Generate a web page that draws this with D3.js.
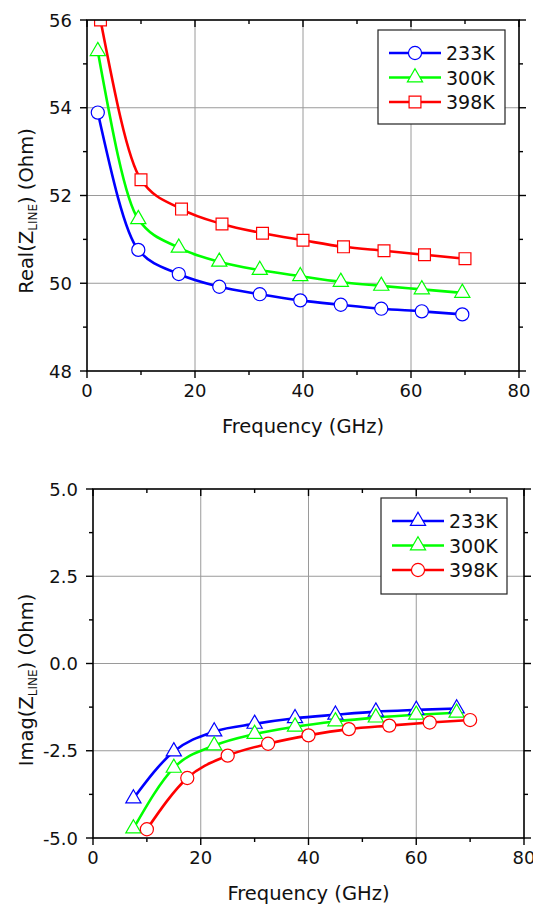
<!doctype html>
<html>
<head>
<meta charset="utf-8">
<title>Z line vs frequency</title>
<style>
  body { margin: 0; background: #fff; }
  text { font-family: "DejaVu Sans", Verdana, sans-serif; }
</style>
</head>
<body>
<script src="https://d3js.org/d3.v7.min.js"></script>
<script>
// ---- data ----
var xTicks = [0, 20, 40, 60, 80];
var xMinor = [10, 30, 50, 70];

// top panel: Real(Z_LINE)
var realTicks = [48, 50, 52, 54, 56];
var realMinor = [49, 51, 53, 55];
var realFreqA = [2, 9.5, 17, 24.5, 32, 39.5, 47, 54.5, 62, 69.5];
var realFreqB = [2.5, 10, 17.5, 25, 32.5, 40, 47.5, 55, 62.5, 70];
var real233 = [53.89, 50.76, 50.21, 49.92, 49.75, 49.61, 49.51, 49.42, 49.36, 49.29];
var real300 = [55.29, 51.46, 50.81, 50.49, 50.30, 50.16, 50.03, 49.94, 49.86, 49.78];
var real398 = [56.0, 52.36, 51.69, 51.35, 51.14, 50.98, 50.83, 50.74, 50.65, 50.56];

// bottom panel: Imag(Z_LINE)
var imagTicks = [-5, -2.5, 0, 2.5, 5];
var imagMinor = [-3.75, -1.25, 1.25, 3.75];
var imagFreqA = [7.5, 15, 22.5, 30, 37.5, 45, 52.5, 60, 67.5];
var imagFreqB = [10, 17.5, 25, 32.5, 40, 47.5, 55, 62.5, 70];
var imag233 = [-3.87, -2.52, -1.95, -1.73, -1.57, -1.47, -1.38, -1.33, -1.29];
var imag300 = [-4.73, -2.99, -2.35, -2.02, -1.81, -1.66, -1.55, -1.47, -1.41];
var imag398 = [-4.75, -3.28, -2.64, -2.30, -2.06, -1.88, -1.78, -1.69, -1.62];

var labels = ["233K", "300K", "398K"];
var colors = ["#0000ff", "#00ff00", "#ff0000"];

var svg = d3.select("body").append("svg")
    .attr("width", 533)
    .attr("height", 908);

// marker shapes
var symbolFor = {
    circle: d3.symbol().type(d3.symbolCircle).size(135),
    square: d3.symbol().type(d3.symbolSquare).size(140),
    triangle: d3.symbol().type(d3.symbolTriangle).size(100)
};

function zip(xs, ys) {
    return xs.map(function (x, i) { return [x, ys[i]]; });
}

function drawPanel(cfg) {
    var x = d3.scaleLinear().domain([0, 80]).range([cfg.left, cfg.right]);
    var y = d3.scaleLinear().domain(cfg.yDomain).range([cfg.bottom, cfg.top]);
    var g = svg.append("g");

    // grid
    g.selectAll(".gx").data([20, 40, 60]).enter().append("line")
        .attr("x1", x).attr("x2", x)
        .attr("y1", cfg.top).attr("y2", cfg.bottom)
        .attr("stroke", "#9a9a9a").attr("stroke-width", 1);
    g.selectAll(".gy").data(cfg.yTicks.slice(1, -1)).enter().append("line")
        .attr("y1", y).attr("y2", y)
        .attr("x1", cfg.left).attr("x2", cfg.right)
        .attr("stroke", "#9a9a9a").attr("stroke-width", 1);

    // clip for curves and markers
    var clipId = "clip" + cfg.id;
    svg.append("clipPath").attr("id", clipId).append("rect")
        .attr("x", cfg.left).attr("y", cfg.top)
        .attr("width", cfg.right - cfg.left).attr("height", cfg.bottom - cfg.top);
    var data = g.append("g").attr("clip-path", "url(#" + clipId + ")");

    var line = d3.line()
        .x(function (d) { return x(d[0]); })
        .y(function (d) { return y(d[1]); })
        .curve(d3.curveMonotoneX);

    cfg.series.forEach(function (s, i) {
        data.append("path")
            .datum(s.pts)
            .attr("fill", "none")
            .attr("stroke", colors[i])
            .attr("stroke-width", 2.6)
            .attr("d", line);
    });
    cfg.series.forEach(function (s, i) {
        data.selectAll(null).data(s.pts).enter().append("path")
            .attr("transform", function (d) { return "translate(" + x(d[0]) + "," + y(d[1]) + ")"; })
            .attr("d", symbolFor[s.marker])
            .attr("fill", "#fff")
            .attr("stroke", colors[i])
            .attr("stroke-width", 1.2);
    });

    // frame
    g.append("rect")
        .attr("x", cfg.left).attr("y", cfg.top)
        .attr("width", cfg.right - cfg.left).attr("height", cfg.bottom - cfg.top)
        .attr("fill", "none").attr("stroke", "#000").attr("stroke-width", 1.6);

    // ticks
    var tk = g.append("g").attr("stroke", "#000").attr("stroke-width", 1.4);
    xTicks.forEach(function (v) {
        tk.append("line").attr("x1", x(v)).attr("x2", x(v)).attr("y1", cfg.bottom).attr("y2", cfg.bottom + 7);
        tk.append("line").attr("x1", x(v)).attr("x2", x(v)).attr("y1", cfg.top).attr("y2", cfg.top + 7);
    });
    xMinor.forEach(function (v) {
        tk.append("line").attr("x1", x(v)).attr("x2", x(v)).attr("y1", cfg.bottom).attr("y2", cfg.bottom + 4);
        tk.append("line").attr("x1", x(v)).attr("x2", x(v)).attr("y1", cfg.top).attr("y2", cfg.top + 4);
    });
    cfg.yTicks.forEach(function (v) {
        tk.append("line").attr("y1", y(v)).attr("y2", y(v)).attr("x1", cfg.left - 7).attr("x2", cfg.left);
        tk.append("line").attr("y1", y(v)).attr("y2", y(v)).attr("x1", cfg.right).attr("x2", cfg.right + 7);
    });
    cfg.yMinor.forEach(function (v) {
        tk.append("line").attr("y1", y(v)).attr("y2", y(v)).attr("x1", cfg.left - 4).attr("x2", cfg.left);
        tk.append("line").attr("y1", y(v)).attr("y2", y(v)).attr("x1", cfg.right).attr("x2", cfg.right + 4);
    });

    // tick labels
    g.selectAll(".xl").data(xTicks).enter().append("text")
        .attr("x", x).attr("y", cfg.bottom + 26)
        .attr("text-anchor", "middle").attr("font-size", 18).attr("fill", "#111")
        .text(function (d) { return d; });
    g.selectAll(".yl").data(cfg.yTicks).enter().append("text")
        .attr("x", cfg.left - 15).attr("y", function (d) { return y(d) + 6.5; })
        .attr("text-anchor", "end").attr("font-size", 18).attr("fill", "#111")
        .text(cfg.fmt);

    // axis titles
    g.append("text")
        .attr("x", (cfg.left + cfg.right) / 2).attr("y", cfg.bottom + 62)
        .attr("text-anchor", "middle").attr("font-size", 19.5).attr("fill", "#111")
        .text("Frequency (GHz)");
    var yt = g.append("text")
        .attr("transform", "translate(33," + cfg.titleY + ") rotate(-90)")
        .attr("text-anchor", "middle").attr("font-size", 19.5).attr("fill", "#111");
    yt.append("tspan").text(cfg.yName + "(Z");
    yt.append("tspan").attr("font-size", 12).attr("dy", 4).text("LINE");
    yt.append("tspan").attr("dy", -4).text(") (Ohm)");

    // legend
    var lg = cfg.legend;
    g.append("rect")
        .attr("x", lg.x).attr("y", lg.y).attr("width", lg.w).attr("height", lg.h)
        .attr("fill", "#fff").attr("stroke", "#222").attr("stroke-width", 1.2);
    cfg.series.forEach(function (s, i) {
        var ry = lg.y + 23 + i * 24.5;
        g.append("line")
            .attr("x1", lg.x + 11).attr("x2", lg.x + 63)
            .attr("y1", ry).attr("y2", ry)
            .attr("stroke", colors[i]).attr("stroke-width", 2.6);
        g.append("path")
            .attr("transform", "translate(" + (lg.x + 37) + "," + ry + ")")
            .attr("d", symbolFor[s.marker])
            .attr("fill", "#fff").attr("stroke", colors[i]).attr("stroke-width", 1.2);
        g.append("text")
            .attr("x", lg.x + 68).attr("y", ry + 7)
            .attr("font-family", "'Liberation Sans', Arial, sans-serif")
            .attr("font-size", 19).attr("fill", "#111")
            .text(labels[i]);
    });
}

drawPanel({
    id: "real",
    left: 87, right: 519, top: 20, bottom: 371,
    yDomain: [48, 56], yTicks: realTicks, yMinor: realMinor,
    fmt: function (d) { return d; },
    yName: "Real", titleY: 211,
    legend: { x: 378, y: 30, w: 127, h: 94 },
    series: [
        { pts: zip(realFreqA, real233), marker: "circle" },
        { pts: zip(realFreqA, real300), marker: "triangle" },
        { pts: zip(realFreqB, real398), marker: "square" }
    ]
});

drawPanel({
    id: "imag",
    left: 93, right: 524, top: 489, bottom: 838,
    yDomain: [-5, 5], yTicks: imagTicks, yMinor: imagMinor,
    fmt: function (d) { return d.toFixed(1); },
    yName: "Imag", titleY: 680,
    legend: { x: 381, y: 498, w: 126, h: 96 },
    series: [
        { pts: zip(imagFreqA, imag233), marker: "triangle" },
        { pts: zip(imagFreqA, imag300), marker: "triangle" },
        { pts: zip(imagFreqB, imag398), marker: "circle" }
    ]
});
</script>
</body>
</html>
